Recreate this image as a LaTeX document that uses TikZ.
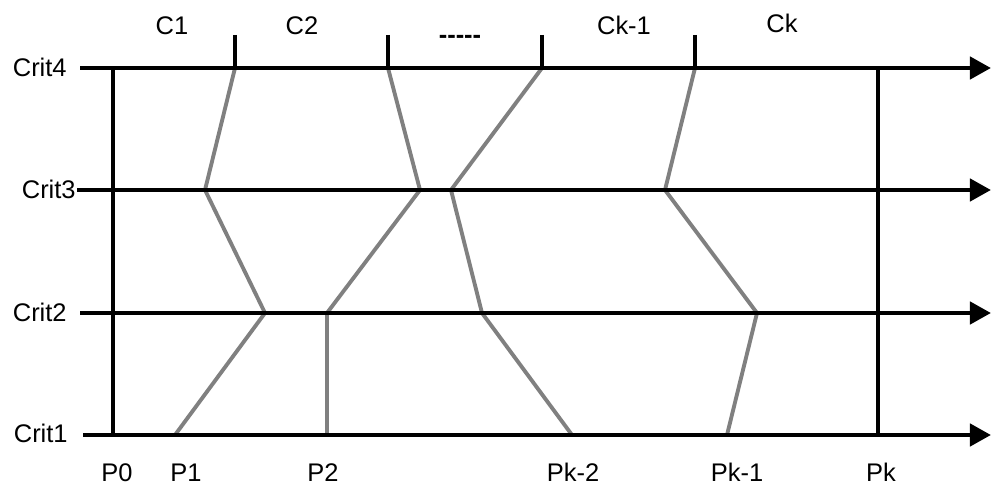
\documentclass[tikz,border=0pt]{standalone}
\usepackage{fontspec}
\setmainfont{Liberation Sans}
\usetikzlibrary{arrows.meta}
\definecolor{linegray}{RGB}{128,128,128}

\begin{document}
\begin{tikzpicture}[x=0.02cm,y=-0.02cm,
    axis/.style={line width=2.7pt,-{Triangle[length=12pt,width=12.5pt]}},
    bar/.style={line width=2.7pt},
    tickmark/.style={line width=2.2pt},
    trace/.style={line width=2.2pt,linegray,line join=round},
    lbl/.style={font=\fontsize{14.5}{16}\selectfont,inner sep=0pt,anchor=base}]
     \useasboundingbox (0,0) rectangle (991,486);
     % criteria axes
     \coordinate (a4) at ( 80, 68);  \coordinate (b4) at (991, 68);
     \coordinate (a3) at ( 77,190);  \coordinate (b3) at (991,190);
     \coordinate (a2) at ( 80,313);  \coordinate (b2) at (991,313);
     \coordinate (a1) at ( 83,435);  \coordinate (b1) at (991,435);
     % outer profiles
     \coordinate (p0top) at (113, 68);  \coordinate (p0bot) at (113,435);
     \coordinate (pktop) at (878, 68);  \coordinate (pkbot) at (878,435);
     \draw[bar] (p0top) -- (p0bot);
     \draw[bar] (pktop) -- (pkbot);
     % class ticks
     \coordinate (t1) at (235,35);  \coordinate (u1) at (235,68);
     \coordinate (t2) at (388,35);  \coordinate (u2) at (388,68);
     \coordinate (t3) at (542,35);  \coordinate (u3) at (542,68);
     \coordinate (t4) at (695,35);  \coordinate (u4) at (695,68);
     \draw[tickmark] (t1) -- (u1);
     \draw[tickmark] (t2) -- (u2);
     \draw[tickmark] (t3) -- (u3);
     \draw[tickmark] (t4) -- (u4);
     % profiles
     \coordinate (q1c) at (205,190); \coordinate (q1b) at (265,313); \coordinate (q1a) at (175,435);
     \coordinate (q2c) at (420,190); \coordinate (q2b) at (327,313); \coordinate (q2a) at (327,435);
     \coordinate (q3c) at (451,190); \coordinate (q3b) at (482,313); \coordinate (q3a) at (572,435);
     \coordinate (q4c) at (665,190); \coordinate (q4b) at (757,313); \coordinate (q4a) at (727,435);
     \draw[trace] (u1) -- (q1c) -- (q1b) -- (q1a);
     \draw[trace] (u2) -- (q2c) -- (q2b) -- (q2a);
     \draw[trace] (u3) -- (q3c) -- (q3b) -- (q3a);
     \draw[trace] (u4) -- (q4c) -- (q4b) -- (q4a);
     \draw[axis] (a4) -- (b4);
     \draw[axis] (a3) -- (b3);
     \draw[axis] (a2) -- (b2);
     \draw[axis] (a1) -- (b1);
     % labels
     \node[lbl,anchor=base east] (crit4) at (67, 77) {Crit4};
     \node[lbl,anchor=base east] (crit3) at (76,199) {Crit3};
     \node[lbl,anchor=base east] (crit2) at (67,321) {Crit2};
     \node[lbl,anchor=base east] (crit1) at (68,442) {Crit1};
     \node[lbl] (c1)  at (172,35) {C1};
     \node[lbl] (c2)  at (302,35) {C2};
     \node[lbl,font=\bfseries\fontsize{14.5}{16}\selectfont] (dots) at (460,44) {{-}{-}{-}{-}{-}};
     \node[lbl] (ck1) at (624,35) {Ck-1};
     \node[lbl] (ck)  at (782,33) {Ck};
     \node[lbl] (P0)  at (117,481) {P0};
     \node[lbl] (P1)  at (186,481) {P1};
     \node[lbl] (P2)  at (323,481) {P2};
     \node[lbl] (Pk2) at (573,481) {Pk-2};
     \node[lbl] (Pk1) at (737,481) {Pk-1};
     \node[lbl] (Pk)  at (881,481) {Pk};
\end{tikzpicture}
\end{document}
